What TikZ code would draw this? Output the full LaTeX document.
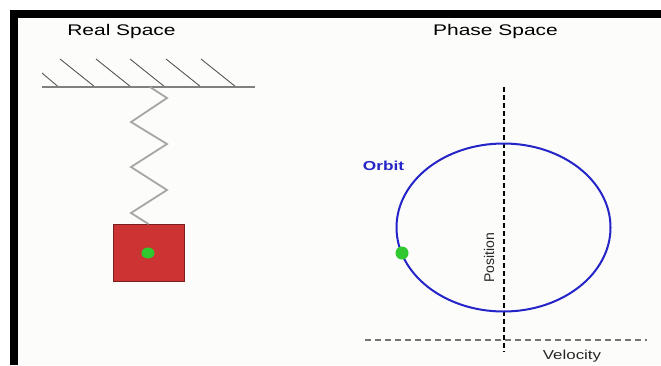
\documentclass[tikz,border=0pt]{standalone}
\usepackage{fontspec}
\setmainfont{Liberation Sans}
\usetikzlibrary{shapes.geometric}
\begin{document}
\begin{tikzpicture}[x=1pt,y=-1pt,
  title/.style={font=\fontsize{15.4}{16}\selectfont, xscale=1.36, anchor=base, inner sep=0pt},
  axislabel/.style={font=\fontsize{13}{14}\selectfont, xscale=1.3, anchor=base, inner sep=0pt, text=black!85},
  hatch/.style={draw=black!65, line width=0.9pt},
  springline/.style={draw=black!35, line width=1.8pt, line join=miter},
  orbitline/.style={draw=orbitblue, line width=2pt},
  bob/.style={fill=bobgreen, draw=none}]
\definecolor{paper}{HTML}{FCFCFA}
\definecolor{massred}{HTML}{CC3333}
\definecolor{massedge}{HTML}{7A1F1F}
\definecolor{bobgreen}{HTML}{2FC82F}
\definecolor{orbitblue}{HTML}{2424C8}

% canvas and frame
\useasboundingbox (0,0) rectangle (661,365);
\fill[white] (0,0) rectangle (661,365);
\fill[paper] (18,18) rectangle (661,365);
\fill[black] (10,10) rectangle (661,18);
\fill[black] (10,10) rectangle (18,365);

% ---------- real space ----------
\node[title] (realtitle) at (121.5,35) {Real Space};

% ceiling with hatching
\draw[hatch] (42,73) -- (58.5,87);
\foreach \hx in {60,96,130,166,201} {
  \draw[hatch] (\hx,59) -- (\hx+35,87);
}
\draw[draw=black!50, line width=1.6pt] (42,87) coordinate (ceilL) -- (255,87) coordinate (ceilR);
\coordinate (hook) at (150,87);

% mass
\node[draw=massedge, line width=0.8pt, fill=massred, minimum width=71pt, minimum height=57pt,
      inner sep=0pt, anchor=north] (mass) at (148.5,224) {};
\node[bob, ellipse, minimum width=13pt, minimum height=11pt, inner sep=0pt] (massdot) at (148,253) {};

% spring
\draw[springline] (hook) -- (167,98) -- (131,122) -- (167,144) -- (131,167)
  -- (167,190) -- (131,213) -- (mass.north);

% ---------- phase space ----------
\node[title] (phasetitle) at (495.5,35) {Phase Space};

\coordinate (ytop) at (504,87);
\coordinate (ybot) at (504,352);
\coordinate (xleft) at (365,340);
\coordinate (xright) at (647,340);
\draw[black, line width=1.4pt, dash pattern=on 5pt off 3pt] (ytop) -- (ybot);
\draw[black!55, line width=1.5pt, dash pattern=on 6pt off 4pt] (xleft) -- (xright);

\draw[orbitline] (503.5,227.5) ellipse [x radius=107, y radius=84];
\node[bob, circle, minimum size=13pt, inner sep=0pt] (phasedot) at (402,253) {};

\node[font=\bfseries\fontsize{13}{14}\selectfont, xscale=1.33, text=orbitblue, anchor=base, inner sep=0pt]
  (orbitlabel) at (383.5,170) {Orbit};
\node[font=\fontsize{14}{15}\selectfont, rotate=90, anchor=base, inner sep=0pt, text=black!85]
  (poslabel) at (494,258) {Position};
\node[axislabel] (vellabel) at (572,359) {Velocity};
\end{tikzpicture}
\end{document}
